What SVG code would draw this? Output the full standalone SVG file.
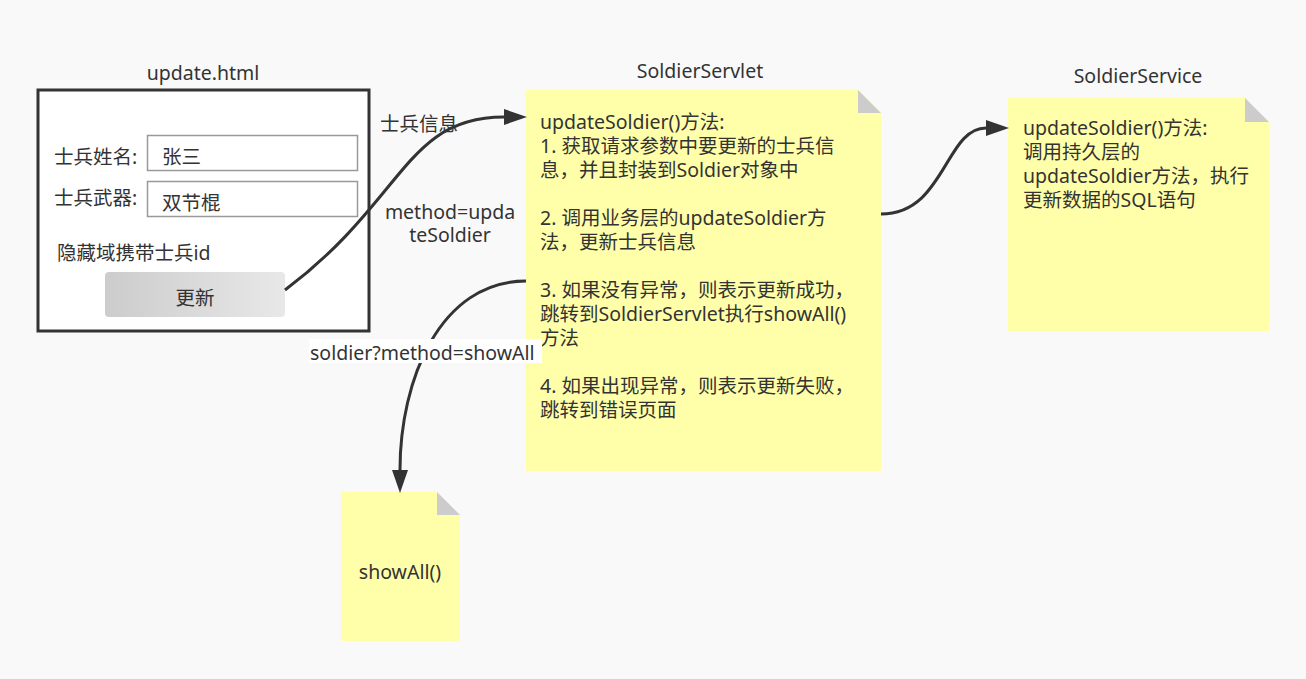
<svg xmlns="http://www.w3.org/2000/svg" width="1306" height="679" viewBox="0 0 1306 679">
<style>
text{font-family:"Noto Sans","Noto Sans CJK SC",sans-serif;font-size:19.5px;fill:#333;dominant-baseline:central}
.mid{text-anchor:middle}
.note{fill:#ffffaa}
.fold{fill:#cccccc}
.conn{fill:none;stroke:#333;stroke-width:3}
.inp{fill:#fff;stroke:#999;stroke-width:1.5}
</style>
<defs>
<marker id="arr" markerUnits="userSpaceOnUse" markerWidth="24" markerHeight="16" refX="0" refY="8" orient="auto" overflow="visible">
<path d="M0,0 L23,8 L0,16 z" fill="#333"/>
</marker>
<linearGradient id="btn" x1="0" y1="0" x2="1" y2="0">
<stop offset="0" stop-color="#cccccc"/>
<stop offset="1" stop-color="#e8e8e8"/>
</linearGradient>
</defs>
<rect width="1306" height="679" fill="#f9f9f9"/>

<g id="update-html">
<text class="mid" x="203" y="72">update.html</text>
<rect x="38" y="90" width="331" height="241" fill="#fff" stroke="#333" stroke-width="3"/>
<text x="54" y="156">士兵姓名:</text>
<rect class="inp" x="147.5" y="135.5" width="210" height="35"/>
<text x="162" y="156">张三</text>
<text x="54" y="197">士兵武器:</text>
<rect class="inp" x="147.5" y="181.5" width="210" height="35"/>
<text x="162" y="202">双节棍</text>
<text x="57" y="252">隐藏域携带士兵id</text>
<rect x="105" y="272" width="180" height="45" rx="4" fill="url(#btn)"/>
<text class="mid" x="195" y="297">更新</text>
</g>

<g id="soldier-servlet">
<text class="mid" x="700" y="70">SoldierServlet</text>
<path class="note" d="M526,90 H858 L881,113 V471 H526 Z"/>
<path class="fold" d="M858,90 V113 H881 Z"/>
<text x="540" y="121"><tspan x="540" y="121">updateSoldier()方法:</tspan><tspan x="540" y="145">1. 获取请求参数中要更新的士兵信</tspan><tspan x="540" y="169">息，并且封装到Soldier对象中</tspan><tspan x="540" y="217">2. 调用业务层的updateSoldier方</tspan><tspan x="540" y="241">法，更新士兵信息</tspan><tspan x="540" y="289">3. 如果没有异常，则表示更新成功，</tspan><tspan x="540" y="313">跳转到SoldierServlet执行showAll()</tspan><tspan x="540" y="337">方法</tspan><tspan x="540" y="385">4. 如果出现异常，则表示更新失败，</tspan><tspan x="540" y="409">跳转到错误页面</tspan></text>
</g>

<g id="soldier-service">
<text class="mid" x="1138" y="75">SoldierService</text>
<path class="note" d="M1008,98 H1245 L1269,122 V331 H1008 Z"/>
<path class="fold" d="M1245,98 V122 H1269 Z"/>
<text x="1023" y="127"><tspan x="1023" y="127">updateSoldier()方法:</tspan><tspan x="1023" y="151">调用持久层的</tspan><tspan x="1023" y="175">updateSoldier方法，执行</tspan><tspan x="1023" y="199">更新数据的SQL语句</tspan></text>
</g>

<g id="show-all">
<path class="note" d="M341,492 H437 L460,515 V641 H341 Z"/>
<path class="fold" d="M437,492 V515 H460 Z"/>
<text class="mid" x="400" y="571">showAll()</text>
</g>

<g id="connectors">
<path class="conn" d="M285,290 C405,200 405,117 504,117" marker-end="url(#arr)"/>
<text x="380" y="123">士兵信息</text>
<text class="mid" x="450" y="211"><tspan x="450" y="211">method=upda</tspan><tspan x="450" y="234">teSoldier</tspan></text>
<path class="conn" d="M881,214 C945,214 945,128 986,128" marker-end="url(#arr)"/>
<path class="conn" d="M526,281 C440,281 400,380 400,470" marker-end="url(#arr)"/>
<rect x="309" y="339" width="233" height="24" fill="#fff"/>
<text x="310" y="352">soldier?method=showAll</text>
</g>
</svg>
